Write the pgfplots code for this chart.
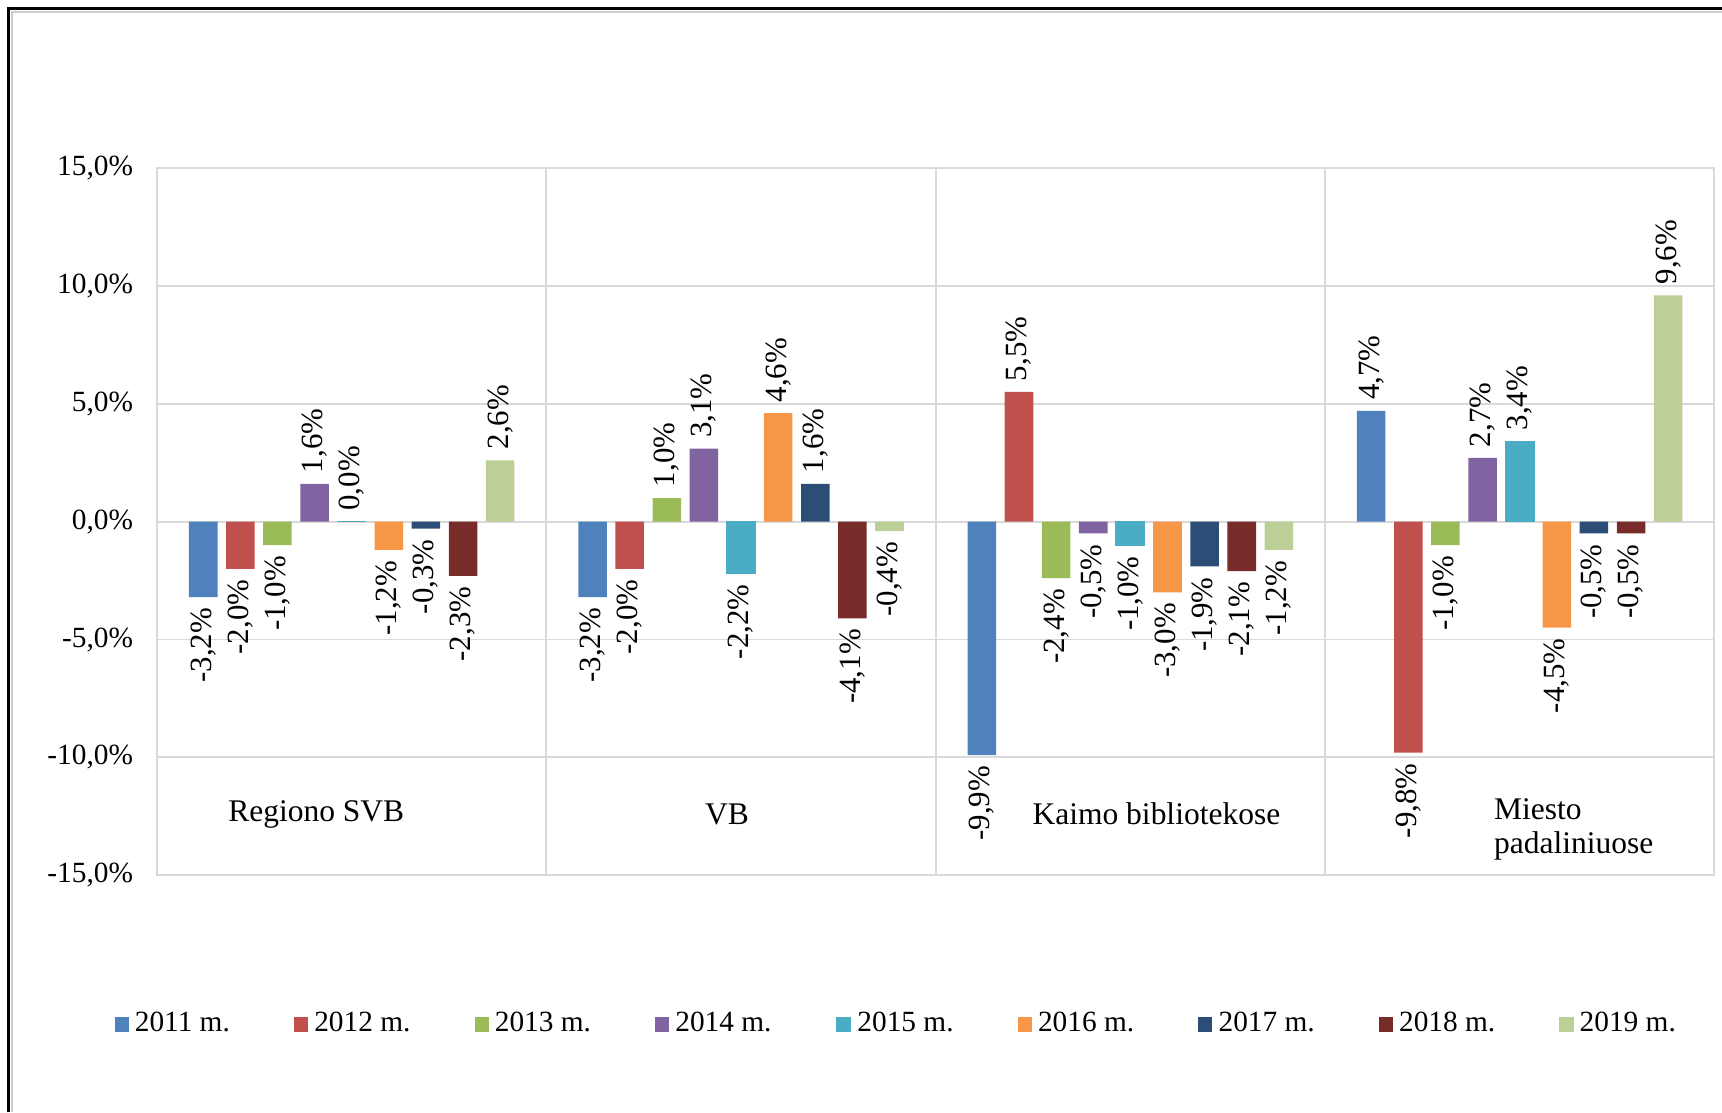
\documentclass[border=0pt]{standalone}
\usepackage{fontspec}
\setmainfont{Liberation Serif}
\usepackage{graphicx}
\usepackage{pgfplots}
\pgfplotsset{compat=1.18}
\definecolor{c1}{HTML}{4F81BD}
\definecolor{c2}{HTML}{C0504D}
\definecolor{c3}{HTML}{9BBB59}
\definecolor{c4}{HTML}{8064A2}
\definecolor{c5}{HTML}{4BACC6}
\definecolor{c6}{HTML}{F79646}
\definecolor{c7}{HTML}{2C4D75}
\definecolor{c8}{HTML}{772C2A}
\definecolor{c9}{HTML}{BBCF96}
\begin{document}
\begin{tikzpicture}[x=0.125mm,y=0.125mm]
\path[use as bounding box] (0,0) rectangle (1568,1013);
\draw[black!20, line width=0.4pt] (11,0) -- (11,1002) -- (1568,1002);
\draw[black, line width=0.35mm] (8,0) -- (8,1005) -- (1568,1005);
\begin{axis}[
  at={(17.875mm,27mm)}, anchor=south west,
  scale only axis, width=177.25mm, height=80.5mm,
  ybar=0.975mm, bar width=3.25mm,
  xmin=-0.5, xmax=3.5, ymin=-15, ymax=15,
  ytick={-15,-10,...,15},
  xtick={0.5,1.5,2.5}, xticklabels={},
  xmajorgrids, ymajorgrids,
  grid style={draw=black!15, line width=0.6pt},
  axis line style={draw=black!15, line width=0.6pt},
  major tick length=0pt,
  yticklabel={\pgfmathprintnumber[fixed,fixed zerofill,precision=1,use comma,assume math mode=true]{\tick}\%},
  yticklabel style={font=\fontsize{9.5}{11}\selectfont, xshift=-1.5mm},
  clip=false,
  nodes near coords={\rotatebox{90}{\pgfmathprintnumber[fixed,fixed zerofill,precision=1,use comma,assume math mode=true]{\pgfplotspointmeta}\%}},
  every node near coord/.append style={font=\fontsize{10}{12}\selectfont, text=black},
  legend columns=9,
  legend style={at={(0.476,-0.211)}, anchor=center, draw=none, font=\fontsize{9.5}{11}\selectfont,
    /tikz/every even column/.append style={column sep=6.6mm}},
  legend image code/.code={\fill[#1] (0mm,-0.8mm) rectangle (1.6mm,0.8mm);},
]
\addplot[fill=c1, draw=none] coordinates {(0,-3.2) (1,-3.2) (2,-9.9) (3,4.7)};
\addplot[fill=c2, draw=none] coordinates {(0,-2.0) (1,-2.0) (2,5.5) (3,-9.8)};
\addplot[fill=c3, draw=none] coordinates {(0,-1.0) (1,1.0) (2,-2.4) (3,-1.0)};
\addplot[fill=c4, draw=none] coordinates {(0,1.6) (1,3.1) (2,-0.5) (3,2.7)};
\addplot[fill=c5, draw=c5, line width=0.5pt] coordinates {(0,0.0) (1,-2.2) (2,-1.0) (3,3.4)};
\addplot[fill=c6, draw=none] coordinates {(0,-1.2) (1,4.6) (2,-3.0) (3,-4.5)};
\addplot[fill=c7, draw=none] coordinates {(0,-0.3) (1,1.6) (2,-1.9) (3,-0.5)};
\addplot[fill=c8, draw=none] coordinates {(0,-2.3) (1,-4.1) (2,-2.1) (3,-0.5)};
\addplot[fill=c9, draw=none] coordinates {(0,2.6) (1,-0.4) (2,-1.2) (3,9.6)};
\legend{2011 m.,2012 m.,2013 m.,2014 m.,2015 m.,2016 m.,2017 m.,2018 m.,2019 m.}
\node[font=\fontsize{10.2}{12}\selectfont] at (axis cs:-0.091,-12.4) {Regiono SVB};
\node[font=\fontsize{10.2}{12}\selectfont] at (axis cs:0.964,-12.4) {VB};
\node[font=\fontsize{10.2}{12}\selectfont] at (axis cs:2.067,-12.4) {Kaimo bibliotekose};
\node[font=\fontsize{10.2}{11}\selectfont, align=left, anchor=west, inner sep=0pt] at (axis cs:2.933,-13.04) {Miesto\\padaliniuose};
\end{axis}
\end{tikzpicture}
\end{document}
